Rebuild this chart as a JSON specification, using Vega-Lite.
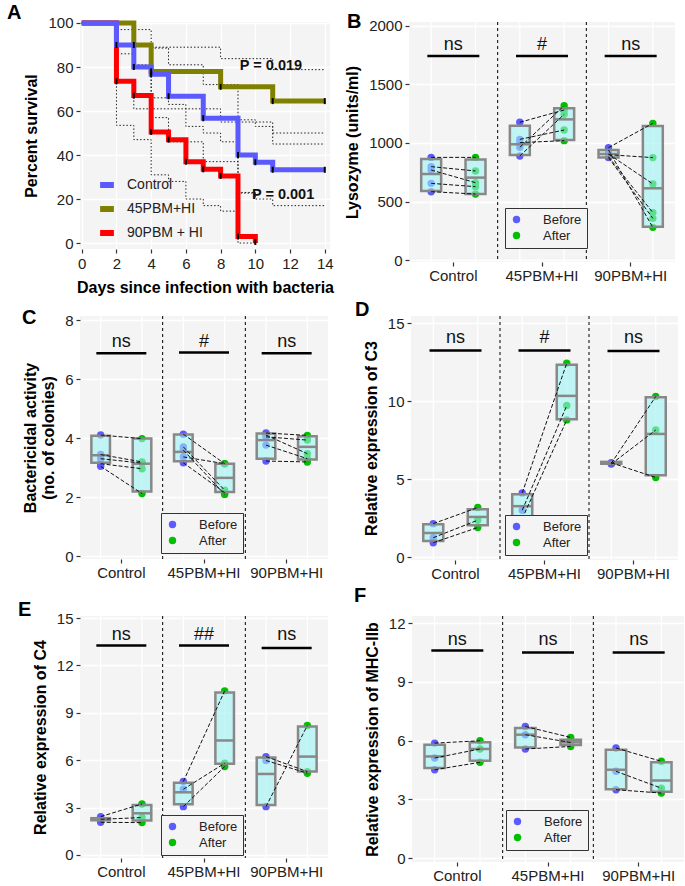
{
"$schema": "https://vega.github.io/schema/vega-lite/v6.json",
"padding": {"left": 7, "top": 2, "right": 0, "bottom": 0},
"background": "white",
"config": {
  "font": "Liberation Sans",
  "view": {"fill": "#f4f4f4", "stroke": null},
  "axis": {"domain": false, "gridColor": "#ffffff", "gridWidth": 1.3, "tickColor": "#333333", "tickSize": 4, "tickWidth": 1.2, "labelColor": "#222222", "labelFontSize": 15, "labelPadding": 3, "titleFontSize": 16, "titleFontWeight": "bold", "titleColor": "#000000", "titlePadding": 8, "labelFont": "Liberation Sans", "titleFont": "Liberation Sans", "labelOverlap": false},
  "title": {"font": "Liberation Sans", "fontSize": 20, "fontWeight": "bold", "anchor": "start", "frame": "group", "baseline": "alphabetic", "offset": 0, "color": "#000000"},
  "legend": {"labelFont": "Liberation Sans"}
},
"datasets": {
  "surv": [
    {"grp": "45PBM+HI", "d": 0, "v": 100}, {"grp": "45PBM+HI", "d": 3, "v": 90}, {"grp": "45PBM+HI", "d": 4, "v": 78}, {"grp": "45PBM+HI", "d": 8, "v": 71}, {"grp": "45PBM+HI", "d": 11, "v": 64.5}, {"grp": "45PBM+HI", "d": 14, "v": 64.5},
    {"grp": "90PBM + HI", "d": 0, "v": 100}, {"grp": "90PBM + HI", "d": 2, "v": 73.5}, {"grp": "90PBM + HI", "d": 3, "v": 67}, {"grp": "90PBM + HI", "d": 4, "v": 50.5}, {"grp": "90PBM + HI", "d": 5, "v": 47}, {"grp": "90PBM + HI", "d": 6, "v": 37}, {"grp": "90PBM + HI", "d": 7, "v": 33.5}, {"grp": "90PBM + HI", "d": 8, "v": 30.5}, {"grp": "90PBM + HI", "d": 9, "v": 3}, {"grp": "90PBM + HI", "d": 10, "v": 0},
    {"grp": "Control", "d": 0, "v": 100}, {"grp": "Control", "d": 2, "v": 90}, {"grp": "Control", "d": 3, "v": 80}, {"grp": "Control", "d": 4, "v": 76.7}, {"grp": "Control", "d": 5, "v": 66.7}, {"grp": "Control", "d": 7, "v": 56.7}, {"grp": "Control", "d": 9, "v": 40}, {"grp": "Control", "d": 10, "v": 36.7}, {"grp": "Control", "d": 11, "v": 33.3}, {"grp": "Control", "d": 14, "v": 33.3}
  ],
  "cens": [
    {"d": 2, "v": 90}, {"d": 3, "v": 80}, {"d": 4, "v": 76.7}, {"d": 5, "v": 66.7}, {"d": 7, "v": 56.7}, {"d": 9, "v": 40}, {"d": 10, "v": 36.7}, {"d": 11, "v": 33.3}, {"d": 14, "v": 33.3},
    {"d": 3, "v": 90}, {"d": 4, "v": 78}, {"d": 8, "v": 71}, {"d": 11, "v": 64.5}, {"d": 14, "v": 64.5},
    {"d": 2, "v": 73.5}, {"d": 3, "v": 67}, {"d": 4, "v": 50.5}, {"d": 5, "v": 47}, {"d": 6, "v": 37}, {"d": 7, "v": 33.5}, {"d": 8, "v": 30.5}, {"d": 9, "v": 3}, {"d": 10, "v": 0.5}
  ],
  "ci": [
    {"id": "cu", "d": 0, "v": 100}, {"id": "cu", "d": 2, "v": 97}, {"id": "cu", "d": 3, "v": 89.5}, {"id": "cu", "d": 4, "v": 88.6}, {"id": "cu", "d": 5, "v": 81}, {"id": "cu", "d": 7, "v": 72}, {"id": "cu", "d": 9, "v": 56}, {"id": "cu", "d": 10, "v": 53}, {"id": "cu", "d": 11, "v": 50}, {"id": "cu", "d": 14, "v": 50},
    {"id": "cl", "d": 0, "v": 100}, {"id": "cl", "d": 2, "v": 73}, {"id": "cl", "d": 3, "v": 61}, {"id": "cl", "d": 4, "v": 57}, {"id": "cl", "d": 5, "v": 46}, {"id": "cl", "d": 7, "v": 37}, {"id": "cl", "d": 9, "v": 23}, {"id": "cl", "d": 10, "v": 20}, {"id": "cl", "d": 11, "v": 17}, {"id": "cl", "d": 14, "v": 17},
    {"id": "ou", "d": 0, "v": 100}, {"id": "ou", "d": 3, "v": 97}, {"id": "ou", "d": 4, "v": 89}, {"id": "ou", "d": 8, "v": 83.8}, {"id": "ou", "d": 11, "v": 78.8}, {"id": "ou", "d": 14, "v": 78.8},
    {"id": "ol", "d": 0, "v": 100}, {"id": "ol", "d": 3, "v": 80}, {"id": "ol", "d": 4, "v": 61}, {"id": "ol", "d": 8, "v": 55}, {"id": "ol", "d": 11, "v": 45}, {"id": "ol", "d": 14, "v": 45},
    {"id": "ru", "d": 0, "v": 100}, {"id": "ru", "d": 2, "v": 86}, {"id": "ru", "d": 3, "v": 81}, {"id": "ru", "d": 4, "v": 66}, {"id": "ru", "d": 5, "v": 63}, {"id": "ru", "d": 6, "v": 53}, {"id": "ru", "d": 7, "v": 50}, {"id": "ru", "d": 8, "v": 46}, {"id": "ru", "d": 9, "v": 22.7}, {"id": "ru", "d": 10, "v": 22.7},
    {"id": "rl", "d": 0, "v": 100}, {"id": "rl", "d": 2, "v": 53.5}, {"id": "rl", "d": 3, "v": 47}, {"id": "rl", "d": 4, "v": 31}, {"id": "rl", "d": 5, "v": 28}, {"id": "rl", "d": 6, "v": 20}, {"id": "rl", "d": 7, "v": 17}, {"id": "rl", "d": 8, "v": 14.5}, {"id": "rl", "d": 9, "v": 0}, {"id": "rl", "d": 10, "v": 0}
  ],
  "pts": [
    {"p": "B", "g": "Control", "t": "Before", "id": 1, "v": 877}, {"p": "B", "g": "Control", "t": "Before", "id": 2, "v": 798}, {"p": "B", "g": "Control", "t": "Before", "id": 3, "v": 769}, {"p": "B", "g": "Control", "t": "Before", "id": 4, "v": 655}, {"p": "B", "g": "Control", "t": "Before", "id": 5, "v": 584},
    {"p": "B", "g": "Control", "t": "After", "id": 1, "v": 877}, {"p": "B", "g": "Control", "t": "After", "id": 2, "v": 761}, {"p": "B", "g": "Control", "t": "After", "id": 3, "v": 661}, {"p": "B", "g": "Control", "t": "After", "id": 4, "v": 627}, {"p": "B", "g": "Control", "t": "After", "id": 5, "v": 564},
    {"p": "B", "g": "45PBM+HI", "t": "Before", "id": 6, "v": 1177}, {"p": "B", "g": "45PBM+HI", "t": "Before", "id": 7, "v": 1031}, {"p": "B", "g": "45PBM+HI", "t": "Before", "id": 8, "v": 1003}, {"p": "B", "g": "45PBM+HI", "t": "Before", "id": 9, "v": 963}, {"p": "B", "g": "45PBM+HI", "t": "Before", "id": 10, "v": 889},
    {"p": "B", "g": "45PBM+HI", "t": "After", "id": 6, "v": 1282}, {"p": "B", "g": "45PBM+HI", "t": "After", "id": 7, "v": 1111}, {"p": "B", "g": "45PBM+HI", "t": "After", "id": 8, "v": 1020}, {"p": "B", "g": "45PBM+HI", "t": "After", "id": 9, "v": 1319}, {"p": "B", "g": "45PBM+HI", "t": "After", "id": 10, "v": 1245},
    {"p": "B", "g": "90PBM+HI", "t": "Before", "id": 11, "v": 960}, {"p": "B", "g": "90PBM+HI", "t": "Before", "id": 12, "v": 900}, {"p": "B", "g": "90PBM+HI", "t": "Before", "id": 13, "v": 906}, {"p": "B", "g": "90PBM+HI", "t": "Before", "id": 14, "v": 883}, {"p": "B", "g": "90PBM+HI", "t": "Before", "id": 15, "v": 875}, {"p": "B", "g": "90PBM+HI", "t": "Before", "id": 16, "v": 940},
    {"p": "B", "g": "90PBM+HI", "t": "After", "id": 11, "v": 1168}, {"p": "B", "g": "90PBM+HI", "t": "After", "id": 12, "v": 875}, {"p": "B", "g": "90PBM+HI", "t": "After", "id": 13, "v": 650}, {"p": "B", "g": "90PBM+HI", "t": "After", "id": 14, "v": 405}, {"p": "B", "g": "90PBM+HI", "t": "After", "id": 15, "v": 356}, {"p": "B", "g": "90PBM+HI", "t": "After", "id": 16, "v": 279},
    {"p": "C", "g": "Control", "t": "Before", "id": 21, "v": 4.1}, {"p": "C", "g": "Control", "t": "Before", "id": 22, "v": 3.44}, {"p": "C", "g": "Control", "t": "Before", "id": 23, "v": 3.3}, {"p": "C", "g": "Control", "t": "Before", "id": 24, "v": 3.13}, {"p": "C", "g": "Control", "t": "Before", "id": 25, "v": 3.04},
    {"p": "C", "g": "Control", "t": "After", "id": 21, "v": 3.98}, {"p": "C", "g": "Control", "t": "After", "id": 22, "v": 3.19}, {"p": "C", "g": "Control", "t": "After", "id": 23, "v": 3.15}, {"p": "C", "g": "Control", "t": "After", "id": 24, "v": 2.96}, {"p": "C", "g": "Control", "t": "After", "id": 25, "v": 2.12},
    {"p": "C", "g": "45PBM+HI", "t": "Before", "id": 26, "v": 4.13}, {"p": "C", "g": "45PBM+HI", "t": "Before", "id": 27, "v": 3.7}, {"p": "C", "g": "45PBM+HI", "t": "Before", "id": 28, "v": 3.59}, {"p": "C", "g": "45PBM+HI", "t": "Before", "id": 29, "v": 3.36}, {"p": "C", "g": "45PBM+HI", "t": "Before", "id": 30, "v": 3.16},
    {"p": "C", "g": "45PBM+HI", "t": "After", "id": 26, "v": 3.13}, {"p": "C", "g": "45PBM+HI", "t": "After", "id": 27, "v": 2.23}, {"p": "C", "g": "45PBM+HI", "t": "After", "id": 28, "v": 2.09}, {"p": "C", "g": "45PBM+HI", "t": "After", "id": 29, "v": 3.13}, {"p": "C", "g": "45PBM+HI", "t": "After", "id": 30, "v": 2.15},
    {"p": "C", "g": "90PBM+HI", "t": "Before", "id": 31, "v": 4.17}, {"p": "C", "g": "90PBM+HI", "t": "Before", "id": 32, "v": 4.04}, {"p": "C", "g": "90PBM+HI", "t": "Before", "id": 33, "v": 4.1}, {"p": "C", "g": "90PBM+HI", "t": "Before", "id": 34, "v": 3.76}, {"p": "C", "g": "90PBM+HI", "t": "Before", "id": 35, "v": 3.22},
    {"p": "C", "g": "90PBM+HI", "t": "After", "id": 31, "v": 4.09}, {"p": "C", "g": "90PBM+HI", "t": "After", "id": 32, "v": 3.93}, {"p": "C", "g": "90PBM+HI", "t": "After", "id": 33, "v": 3.47}, {"p": "C", "g": "90PBM+HI", "t": "After", "id": 34, "v": 3.3}, {"p": "C", "g": "90PBM+HI", "t": "After", "id": 35, "v": 3.19},
    {"p": "D", "g": "Control", "t": "Before", "id": 41, "v": 2.14}, {"p": "D", "g": "Control", "t": "Before", "id": 42, "v": 1.24}, {"p": "D", "g": "Control", "t": "Before", "id": 43, "v": 0.92},
    {"p": "D", "g": "Control", "t": "After", "id": 41, "v": 3.17}, {"p": "D", "g": "Control", "t": "After", "id": 42, "v": 2.36}, {"p": "D", "g": "Control", "t": "After", "id": 43, "v": 1.89},
    {"p": "D", "g": "45PBM+HI", "t": "Before", "id": 44, "v": 4.11}, {"p": "D", "g": "45PBM+HI", "t": "Before", "id": 45, "v": 3.0}, {"p": "D", "g": "45PBM+HI", "t": "Before", "id": 46, "v": 2.46},
    {"p": "D", "g": "45PBM+HI", "t": "After", "id": 44, "v": 12.43}, {"p": "D", "g": "45PBM+HI", "t": "After", "id": 45, "v": 9.71}, {"p": "D", "g": "45PBM+HI", "t": "After", "id": 46, "v": 8.79},
    {"p": "D", "g": "90PBM+HI", "t": "Before", "id": 47, "v": 6.0}, {"p": "D", "g": "90PBM+HI", "t": "Before", "id": 48, "v": 5.96}, {"p": "D", "g": "90PBM+HI", "t": "Before", "id": 49, "v": 6.04},
    {"p": "D", "g": "90PBM+HI", "t": "After", "id": 47, "v": 10.29}, {"p": "D", "g": "90PBM+HI", "t": "After", "id": 48, "v": 8.14}, {"p": "D", "g": "90PBM+HI", "t": "After", "id": 49, "v": 5.1},
    {"p": "E", "g": "Control", "t": "Before", "id": 51, "v": 2.43}, {"p": "E", "g": "Control", "t": "Before", "id": 52, "v": 2.26}, {"p": "E", "g": "Control", "t": "Before", "id": 53, "v": 2.07},
    {"p": "E", "g": "Control", "t": "After", "id": 51, "v": 3.23}, {"p": "E", "g": "Control", "t": "After", "id": 52, "v": 2.37}, {"p": "E", "g": "Control", "t": "After", "id": 53, "v": 2.05},
    {"p": "E", "g": "45PBM+HI", "t": "Before", "id": 54, "v": 4.65}, {"p": "E", "g": "45PBM+HI", "t": "Before", "id": 55, "v": 4.16}, {"p": "E", "g": "45PBM+HI", "t": "Before", "id": 56, "v": 3.06},
    {"p": "E", "g": "45PBM+HI", "t": "After", "id": 54, "v": 10.39}, {"p": "E", "g": "45PBM+HI", "t": "After", "id": 55, "v": 5.81}, {"p": "E", "g": "45PBM+HI", "t": "After", "id": 56, "v": 5.6},
    {"p": "E", "g": "90PBM+HI", "t": "Before", "id": 57, "v": 6.23}, {"p": "E", "g": "90PBM+HI", "t": "Before", "id": 58, "v": 5.98}, {"p": "E", "g": "90PBM+HI", "t": "Before", "id": 59, "v": 3.06},
    {"p": "E", "g": "90PBM+HI", "t": "After", "id": 57, "v": 5.28}, {"p": "E", "g": "90PBM+HI", "t": "After", "id": 58, "v": 5.18}, {"p": "E", "g": "90PBM+HI", "t": "After", "id": 59, "v": 8.2},
    {"p": "F", "g": "Control", "t": "Before", "id": 61, "v": 5.87}, {"p": "F", "g": "Control", "t": "Before", "id": 62, "v": 5.11}, {"p": "F", "g": "Control", "t": "Before", "id": 63, "v": 4.51},
    {"p": "F", "g": "Control", "t": "After", "id": 61, "v": 5.99}, {"p": "F", "g": "Control", "t": "After", "id": 62, "v": 5.57}, {"p": "F", "g": "Control", "t": "After", "id": 63, "v": 4.89},
    {"p": "F", "g": "45PBM+HI", "t": "Before", "id": 64, "v": 6.72}, {"p": "F", "g": "45PBM+HI", "t": "Before", "id": 65, "v": 6.3}, {"p": "F", "g": "45PBM+HI", "t": "Before", "id": 66, "v": 5.57},
    {"p": "F", "g": "45PBM+HI", "t": "After", "id": 64, "v": 6.16}, {"p": "F", "g": "45PBM+HI", "t": "After", "id": 65, "v": 5.9}, {"p": "F", "g": "45PBM+HI", "t": "After", "id": 66, "v": 5.7},
    {"p": "F", "g": "90PBM+HI", "t": "Before", "id": 67, "v": 5.62}, {"p": "F", "g": "90PBM+HI", "t": "Before", "id": 68, "v": 4.43}, {"p": "F", "g": "90PBM+HI", "t": "Before", "id": 69, "v": 3.49},
    {"p": "F", "g": "90PBM+HI", "t": "After", "id": 67, "v": 4.94}, {"p": "F", "g": "90PBM+HI", "t": "After", "id": 68, "v": 3.57}, {"p": "F", "g": "90PBM+HI", "t": "After", "id": 69, "v": 3.32}
  ],
  "box": [
    {"p": "B", "g": "Control", "t": "Before", "lo": 590, "mid": 735, "hi": 863}, {"p": "B", "g": "Control", "t": "After", "lo": 564, "mid": 704, "hi": 860},
    {"p": "B", "g": "45PBM+HI", "t": "Before", "lo": 897, "mid": 989, "hi": 1148}, {"p": "B", "g": "45PBM+HI", "t": "After", "lo": 1026, "mid": 1202, "hi": 1296},
    {"p": "B", "g": "90PBM+HI", "t": "Before", "lo": 877, "mid": 906, "hi": 940}, {"p": "B", "g": "90PBM+HI", "t": "After", "lo": 285, "mid": 613, "hi": 1145},
    {"p": "C", "g": "Control", "t": "Before", "lo": 3.16, "mid": 3.42, "hi": 4.08}, {"p": "C", "g": "Control", "t": "After", "lo": 2.19, "mid": 3.13, "hi": 3.98},
    {"p": "C", "g": "45PBM+HI", "t": "Before", "lo": 3.21, "mid": 3.53, "hi": 4.12}, {"p": "C", "g": "45PBM+HI", "t": "After", "lo": 2.17, "mid": 2.65, "hi": 3.13},
    {"p": "C", "g": "90PBM+HI", "t": "Before", "lo": 3.3, "mid": 3.93, "hi": 4.15}, {"p": "C", "g": "90PBM+HI", "t": "After", "lo": 3.27, "mid": 3.7, "hi": 4.06},
    {"p": "D", "g": "Control", "t": "Before", "lo": 1.03, "mid": 1.54, "hi": 2.1}, {"p": "D", "g": "Control", "t": "After", "lo": 2.04, "mid": 2.57, "hi": 3.06},
    {"p": "D", "g": "45PBM+HI", "t": "Before", "lo": 2.61, "mid": 3.26, "hi": 4.03}, {"p": "D", "g": "45PBM+HI", "t": "After", "lo": 8.83, "mid": 10.33, "hi": 12.32},
    {"p": "D", "g": "90PBM+HI", "t": "Before", "lo": 5.98, "mid": 6.06, "hi": 6.1}, {"p": "D", "g": "90PBM+HI", "t": "After", "lo": 5.25, "mid": 7.89, "hi": 10.24},
    {"p": "E", "g": "Control", "t": "Before", "lo": 2.2, "mid": 2.26, "hi": 2.33}, {"p": "E", "g": "Control", "t": "After", "lo": 2.18, "mid": 2.64, "hi": 3.17},
    {"p": "E", "g": "45PBM+HI", "t": "Before", "lo": 3.21, "mid": 3.97, "hi": 4.58}, {"p": "E", "g": "45PBM+HI", "t": "After", "lo": 5.77, "mid": 7.25, "hi": 10.29},
    {"p": "E", "g": "90PBM+HI", "t": "Before", "lo": 3.17, "mid": 5.13, "hi": 6.17}, {"p": "E", "g": "90PBM+HI", "t": "After", "lo": 5.28, "mid": 6.23, "hi": 8.13},
    {"p": "F", "g": "Control", "t": "Before", "lo": 4.6, "mid": 5.19, "hi": 5.79}, {"p": "F", "g": "Control", "t": "After", "lo": 4.97, "mid": 5.57, "hi": 5.92},
    {"p": "F", "g": "45PBM+HI", "t": "Before", "lo": 5.65, "mid": 6.3, "hi": 6.64}, {"p": "F", "g": "45PBM+HI", "t": "After", "lo": 5.77, "mid": 5.91, "hi": 6.04},
    {"p": "F", "g": "90PBM+HI", "t": "Before", "lo": 3.52, "mid": 4.51, "hi": 5.53}, {"p": "F", "g": "90PBM+HI", "t": "After", "lo": 3.39, "mid": 3.96, "hi": 4.89}
  ],
  "sig": [
    {"p": "B", "g": "Control", "lab": "ns", "bar": 1744, "txt": 1795}, {"p": "B", "g": "45PBM+HI", "lab": "#", "bar": 1744, "txt": 1795}, {"p": "B", "g": "90PBM+HI", "lab": "ns", "bar": 1744, "txt": 1795},
    {"p": "C", "g": "Control", "lab": "ns", "bar": 6.87, "txt": 7.07}, {"p": "C", "g": "45PBM+HI", "lab": "#", "bar": 6.9, "txt": 7.1}, {"p": "C", "g": "90PBM+HI", "lab": "ns", "bar": 6.87, "txt": 7.1},
    {"p": "D", "g": "Control", "lab": "ns", "bar": 13.24, "txt": 13.71}, {"p": "D", "g": "45PBM+HI", "lab": "#", "bar": 13.24, "txt": 13.71}, {"p": "D", "g": "90PBM+HI", "lab": "ns", "bar": 13.2, "txt": 13.71},
    {"p": "E", "g": "Control", "lab": "ns", "bar": 13.27, "txt": 13.63}, {"p": "E", "g": "45PBM+HI", "lab": "##", "bar": 13.27, "txt": 13.63}, {"p": "E", "g": "90PBM+HI", "lab": "ns", "bar": 13.1, "txt": 13.6},
    {"p": "F", "g": "Control", "lab": "ns", "bar": 10.6, "txt": 10.89}, {"p": "F", "g": "45PBM+HI", "lab": "ns", "bar": 10.5, "txt": 10.89}, {"p": "F", "g": "90PBM+HI", "lab": "ns", "bar": 10.5, "txt": 10.89}
  ]
},
"resolve": {"scale": {"x": "independent", "y": "independent", "xOffset": "independent", "color": "independent"}, "axis": {"x": "independent", "y": "independent"}, "legend": {"color": "independent"}},
"align": "none",
"spacing": 5,
"vconcat": [
{
 "spacing": 9,
 "resolve": {"scale": {"x": "independent", "y": "independent", "xOffset": "independent", "color": "independent"}, "axis": {"x": "independent", "y": "independent"}, "legend": {"color": "independent"}},
 "hconcat": [
  {
   "width": 250, "height": 227,
   "title": {"text": "A", "dx": -73, "dy": 14},
   "encoding": {
     "x": {"field": "d", "type": "quantitative", "scale": {"domain": [-0.1, 14.3], "nice": false, "zero": false}, "axis": {"values": [0, 2, 4, 6, 8, 10, 12, 14], "tickCount": 8, "labelFlush": false, "labelOverlap": false, "labelSeparation": 0, "labelBound": false}, "title": "Days since infection with bacteria"},
     "y": {"field": "v", "type": "quantitative", "scale": {"domain": [-2.7, 100.45], "nice": false, "zero": false}, "axis": {"values": [0, 20, 40, 60, 80, 100]}, "title": "Percent survival"}
   },
   "layer": [
    {"data": {"name": "ci"}, "mark": {"type": "line", "interpolate": "step-after", "color": "#222222", "strokeWidth": 1, "strokeDash": [1.5, 2]},
     "encoding": {"detail": {"field": "id", "type": "nominal"}}},
    {"data": {"name": "surv"}, "mark": {"type": "line", "interpolate": "step-after", "strokeWidth": 5},
     "encoding": {
      "color": {"field": "grp", "type": "nominal", "scale": {"domain": ["Control", "45PBM+HI", "90PBM + HI"], "range": ["#5a5aff", "#808000", "#ff0000"]},
        "legend": {"title": null, "orient": "none", "legendX": 17, "legendY": 153, "symbolType": "stroke", "symbolStrokeWidth": 6, "symbolSize": 190, "labelFontSize": 14, "labelOffset": 10, "padding": 0, "rowPadding": 0, "labelColor": "#222222"}}}},
    {"data": {"name": "cens"}, "mark": {"type": "tick", "orient": "vertical", "color": "#000000", "size": 6, "thickness": 2, "opacity": 1}},
    {"data": {"values": [{"d": 10.9, "v": 80.5, "lab": "P = 0.019"}, {"d": 11.6, "v": 21.8, "lab": "P = 0.001"}]},
     "mark": {"type": "text", "fontWeight": "bold", "fontSize": 14.5, "baseline": "middle", "color": "#111111"},
     "encoding": {"text": {"field": "lab", "type": "nominal"}}}
   ]
  },
  {
   "width": 266, "height": 240,
   "title": {"text": "B", "dx": -62, "dy": 17},
   "layer": [
    {"data": {"name": "box"}, "transform": [{"filter": "datum.p == 'B'"}], "mark": {"type": "rule", "color": "#ffffff", "strokeWidth": 1.3},
     "encoding": {"x": {"field": "g", "type": "nominal", "scale": {"domain": ["Control", "45PBM+HI", "90PBM+HI"], "paddingInner": 0, "paddingOuter": 0}, "axis": {"labelAngle": 0, "grid": false, "labelPadding": 2}, "title": null},
      "xOffset": {"field": "t", "type": "nominal", "scale": {"domain": ["Before", "After"], "paddingInner": 0.55, "paddingOuter": 0.275}}}},
    {"data": {"name": "sig"}, "transform": [{"filter": "datum.p == 'B' && datum.g != 'Control'"}], "mark": {"type": "rule", "color": "#000000", "strokeWidth": 1, "strokeDash": [3, 3]},
     "encoding": {"x": {"field": "g", "type": "nominal", "bandPosition": 0, "title": null}}},
    {"data": {"name": "pts"}, "transform": [{"filter": "datum.p == 'B'"}], "mark": {"type": "circle", "size": 55, "opacity": 1},
     "encoding": {"x": {"field": "g", "type": "nominal", "title": null}, "xOffset": {"field": "t", "type": "nominal"},
      "y": {"field": "v", "type": "quantitative", "scale": {"domain": [-17, 2034], "nice": false, "zero": false}, "axis": {"values": [0, 500, 1000, 1500, 2000], "format": "d"}, "title": "Lysozyme (units/ml)"},
      "color": {"field": "t", "type": "nominal", "scale": {"domain": ["Before", "After"], "range": ["#5b5bff", "#00c000"]},
        "legend": {"title": null, "orient": "none", "legendX": 96, "legendY": 186, "strokeColor": "#333333", "fillColor": "#f4f4f4", "padding": 5, "labelOffset": 20, "labelFontSize": 13, "symbolSize": 55, "symbolType": "circle", "rowPadding": 2, "symbolStrokeWidth": 0, "labelColor": "#222222"}}}},
    {"data": {"name": "box"}, "transform": [{"filter": "datum.p == 'B'"}], "mark": {"type": "bar", "fill": "#9cf1f1", "fillOpacity": 0.6, "stroke": "#888888", "strokeWidth": 2.5},
     "encoding": {"x": {"field": "g", "type": "nominal", "title": null}, "xOffset": {"field": "t", "type": "nominal"},
      "y": {"field": "lo", "type": "quantitative", "scale": {"domain": [-17, 2034], "nice": false, "zero": false}, "title": "Lysozyme (units/ml)"}, "y2": {"field": "hi"}}},
    {"data": {"name": "box"}, "transform": [{"filter": "datum.p == 'B'"}], "mark": {"type": "tick", "orient": "horizontal", "color": "#888888", "size": 20, "thickness": 2.5, "opacity": 1},
     "encoding": {"x": {"field": "g", "type": "nominal", "title": null}, "xOffset": {"field": "t", "type": "nominal"},
      "y": {"field": "mid", "type": "quantitative", "scale": {"domain": [-17, 2034], "nice": false, "zero": false}, "title": "Lysozyme (units/ml)"}}},
    {"data": {"name": "pts"}, "transform": [{"filter": "datum.p == 'B'"}], "mark": {"type": "line", "color": "#111111", "strokeWidth": 1, "strokeDash": [4, 2]},
     "encoding": {"x": {"field": "g", "type": "nominal", "title": null}, "xOffset": {"field": "t", "type": "nominal"},
      "y": {"field": "v", "type": "quantitative", "scale": {"domain": [-17, 2034], "nice": false, "zero": false}, "title": "Lysozyme (units/ml)"}, "detail": {"field": "id", "type": "nominal"}}},
    {"data": {"name": "sig"}, "transform": [{"filter": "datum.p == 'B'"}], "mark": {"type": "tick", "orient": "horizontal", "color": "#000000", "size": 52, "thickness": 2.5, "opacity": 1},
     "encoding": {"x": {"field": "g", "type": "nominal", "title": null},
      "y": {"field": "bar", "type": "quantitative", "scale": {"domain": [-17, 2034], "nice": false, "zero": false}, "title": "Lysozyme (units/ml)"}}},
    {"data": {"name": "sig"}, "transform": [{"filter": "datum.p == 'B'"}], "mark": {"type": "text", "fontSize": 18, "baseline": "alphabetic", "color": "#111111"},
     "encoding": {"x": {"field": "g", "type": "nominal", "title": null},
      "y": {"field": "txt", "type": "quantitative", "scale": {"domain": [-17, 2034], "nice": false, "zero": false}, "title": "Lysozyme (units/ml)"}, "text": {"field": "lab", "type": "nominal"}}}
   ]
  }
 ]
},
{
 "spacing": 27,
 "resolve": {"scale": {"x": "independent", "y": "independent", "xOffset": "independent", "color": "independent"}, "axis": {"x": "independent", "y": "independent"}, "legend": {"color": "independent"}},
 "hconcat": [
  {
   "width": 248, "height": 243,
   "title": {"text": "C", "dx": -58, "dy": 19},
   "layer": [
    {"data": {"name": "box"}, "transform": [{"filter": "datum.p == 'C'"}], "mark": {"type": "rule", "color": "#ffffff", "strokeWidth": 1.3},
     "encoding": {"x": {"field": "g", "type": "nominal", "scale": {"domain": ["Control", "45PBM+HI", "90PBM+HI"], "paddingInner": 0, "paddingOuter": 0}, "axis": {"labelAngle": 0, "grid": false, "labelPadding": 2}, "title": null},
      "xOffset": {"field": "t", "type": "nominal", "scale": {"domain": ["Before", "After"], "paddingInner": 0.55, "paddingOuter": 0.275}}}},
    {"data": {"name": "sig"}, "transform": [{"filter": "datum.p == 'C' && datum.g != 'Control'"}], "mark": {"type": "rule", "color": "#000000", "strokeWidth": 1, "strokeDash": [3, 3]},
     "encoding": {"x": {"field": "g", "type": "nominal", "bandPosition": 0, "title": null}}},
    {"data": {"name": "pts"}, "transform": [{"filter": "datum.p == 'C'"}], "mark": {"type": "circle", "size": 55, "opacity": 1},
     "encoding": {"x": {"field": "g", "type": "nominal", "title": null}, "xOffset": {"field": "t", "type": "nominal"},
      "y": {"field": "v", "type": "quantitative", "scale": {"domain": [-0.1, 8.136], "nice": false, "zero": false}, "axis": {"values": [0, 2, 4, 6, 8]}, "title": ["Bactericidal activity", "(no. of colonies)"]},
      "color": {"field": "t", "type": "nominal", "scale": {"domain": ["Before", "After"], "range": ["#5b5bff", "#00c000"]},
        "legend": {"title": null, "orient": "none", "legendX": 81, "legendY": 197, "strokeColor": "#333333", "fillColor": "#f4f4f4", "padding": 5, "labelOffset": 20, "labelFontSize": 13, "symbolSize": 55, "symbolType": "circle", "rowPadding": 2, "symbolStrokeWidth": 0, "labelColor": "#222222"}}}},
    {"data": {"name": "box"}, "transform": [{"filter": "datum.p == 'C'"}], "mark": {"type": "bar", "fill": "#9cf1f1", "fillOpacity": 0.6, "stroke": "#888888", "strokeWidth": 2.5},
     "encoding": {"x": {"field": "g", "type": "nominal", "title": null}, "xOffset": {"field": "t", "type": "nominal"},
      "y": {"field": "lo", "type": "quantitative", "scale": {"domain": [-0.1, 8.136], "nice": false, "zero": false}, "title": ["Bactericidal activity", "(no. of colonies)"]}, "y2": {"field": "hi"}}},
    {"data": {"name": "box"}, "transform": [{"filter": "datum.p == 'C'"}], "mark": {"type": "tick", "orient": "horizontal", "color": "#888888", "size": 20, "thickness": 2.5, "opacity": 1},
     "encoding": {"x": {"field": "g", "type": "nominal", "title": null}, "xOffset": {"field": "t", "type": "nominal"},
      "y": {"field": "mid", "type": "quantitative", "scale": {"domain": [-0.1, 8.136], "nice": false, "zero": false}, "title": ["Bactericidal activity", "(no. of colonies)"]}}},
    {"data": {"name": "pts"}, "transform": [{"filter": "datum.p == 'C'"}], "mark": {"type": "line", "color": "#111111", "strokeWidth": 1, "strokeDash": [4, 2]},
     "encoding": {"x": {"field": "g", "type": "nominal", "title": null}, "xOffset": {"field": "t", "type": "nominal"},
      "y": {"field": "v", "type": "quantitative", "scale": {"domain": [-0.1, 8.136], "nice": false, "zero": false}, "title": ["Bactericidal activity", "(no. of colonies)"]}, "detail": {"field": "id", "type": "nominal"}}},
    {"data": {"name": "sig"}, "transform": [{"filter": "datum.p == 'C'"}], "mark": {"type": "tick", "orient": "horizontal", "color": "#000000", "size": 50, "thickness": 2.5, "opacity": 1},
     "encoding": {"x": {"field": "g", "type": "nominal", "title": null},
      "y": {"field": "bar", "type": "quantitative", "scale": {"domain": [-0.1, 8.136], "nice": false, "zero": false}, "title": ["Bactericidal activity", "(no. of colonies)"]}}},
    {"data": {"name": "sig"}, "transform": [{"filter": "datum.p == 'C'"}], "mark": {"type": "text", "fontSize": 18, "baseline": "alphabetic", "color": "#111111"},
     "encoding": {"x": {"field": "g", "type": "nominal", "title": null},
      "y": {"field": "txt", "type": "quantitative", "scale": {"domain": [-0.1, 8.136], "nice": false, "zero": false}, "title": ["Bactericidal activity", "(no. of colonies)"]}, "text": {"field": "lab", "type": "nominal"}}}
   ]
  },
  {
   "width": 267, "height": 244,
   "title": {"text": "D", "dx": -56, "dy": 9},
   "layer": [
    {"data": {"name": "box"}, "transform": [{"filter": "datum.p == 'D'"}], "mark": {"type": "rule", "color": "#ffffff", "strokeWidth": 1.3},
     "encoding": {"x": {"field": "g", "type": "nominal", "scale": {"domain": ["Control", "45PBM+HI", "90PBM+HI"], "paddingInner": 0, "paddingOuter": 0}, "axis": {"labelAngle": 0, "grid": false, "labelPadding": 2}, "title": null},
      "xOffset": {"field": "t", "type": "nominal", "scale": {"domain": ["Before", "After"], "paddingInner": 0.55, "paddingOuter": 0.275}}}},
    {"data": {"name": "sig"}, "transform": [{"filter": "datum.p == 'D' && datum.g != 'Control'"}], "mark": {"type": "rule", "color": "#000000", "strokeWidth": 1, "strokeDash": [3, 3]},
     "encoding": {"x": {"field": "g", "type": "nominal", "bandPosition": 0, "title": null}}},
    {"data": {"name": "pts"}, "transform": [{"filter": "datum.p == 'D'"}], "mark": {"type": "circle", "size": 55, "opacity": 1},
     "encoding": {"x": {"field": "g", "type": "nominal", "title": null}, "xOffset": {"field": "t", "type": "nominal"},
      "y": {"field": "v", "type": "quantitative", "scale": {"domain": [-0.19, 15.45], "nice": false, "zero": false}, "axis": {"values": [0, 5, 10, 15]}, "title": "Relative expression of C3"},
      "color": {"field": "t", "type": "nominal", "scale": {"domain": ["Before", "After"], "range": ["#5b5bff", "#00c000"]},
        "legend": {"title": null, "orient": "none", "legendX": 94, "legendY": 199, "strokeColor": "#333333", "fillColor": "#f4f4f4", "padding": 5, "labelOffset": 20, "labelFontSize": 13, "symbolSize": 55, "symbolType": "circle", "rowPadding": 2, "symbolStrokeWidth": 0, "labelColor": "#222222"}}}},
    {"data": {"name": "box"}, "transform": [{"filter": "datum.p == 'D'"}], "mark": {"type": "bar", "fill": "#9cf1f1", "fillOpacity": 0.6, "stroke": "#888888", "strokeWidth": 2.5},
     "encoding": {"x": {"field": "g", "type": "nominal", "title": null}, "xOffset": {"field": "t", "type": "nominal"},
      "y": {"field": "lo", "type": "quantitative", "scale": {"domain": [-0.19, 15.45], "nice": false, "zero": false}, "title": "Relative expression of C3"}, "y2": {"field": "hi"}}},
    {"data": {"name": "box"}, "transform": [{"filter": "datum.p == 'D'"}], "mark": {"type": "tick", "orient": "horizontal", "color": "#888888", "size": 20, "thickness": 2.5, "opacity": 1},
     "encoding": {"x": {"field": "g", "type": "nominal", "title": null}, "xOffset": {"field": "t", "type": "nominal"},
      "y": {"field": "mid", "type": "quantitative", "scale": {"domain": [-0.19, 15.45], "nice": false, "zero": false}, "title": "Relative expression of C3"}}},
    {"data": {"name": "pts"}, "transform": [{"filter": "datum.p == 'D'"}], "mark": {"type": "line", "color": "#111111", "strokeWidth": 1, "strokeDash": [4, 2]},
     "encoding": {"x": {"field": "g", "type": "nominal", "title": null}, "xOffset": {"field": "t", "type": "nominal"},
      "y": {"field": "v", "type": "quantitative", "scale": {"domain": [-0.19, 15.45], "nice": false, "zero": false}, "title": "Relative expression of C3"}, "detail": {"field": "id", "type": "nominal"}}},
    {"data": {"name": "sig"}, "transform": [{"filter": "datum.p == 'D'"}], "mark": {"type": "tick", "orient": "horizontal", "color": "#000000", "size": 52, "thickness": 2.5, "opacity": 1},
     "encoding": {"x": {"field": "g", "type": "nominal", "title": null},
      "y": {"field": "bar", "type": "quantitative", "scale": {"domain": [-0.19, 15.45], "nice": false, "zero": false}, "title": "Relative expression of C3"}}},
    {"data": {"name": "sig"}, "transform": [{"filter": "datum.p == 'D'"}], "mark": {"type": "text", "fontSize": 18, "baseline": "alphabetic", "color": "#111111"},
     "encoding": {"x": {"field": "g", "type": "nominal", "title": null},
      "y": {"field": "txt", "type": "quantitative", "scale": {"domain": [-0.19, 15.45], "nice": false, "zero": false}, "title": "Relative expression of C3"}, "text": {"field": "lab", "type": "nominal"}}}
   ]
  }
 ]
},
{
 "spacing": 26,
 "resolve": {"scale": {"x": "independent", "y": "independent", "xOffset": "independent", "color": "independent"}, "axis": {"x": "independent", "y": "independent"}, "legend": {"color": "independent"}},
 "hconcat": [
  {
   "width": 248, "height": 242,
   "title": {"text": "E", "dx": -62, "dy": 13},
   "layer": [
    {"data": {"name": "box"}, "transform": [{"filter": "datum.p == 'E'"}], "mark": {"type": "rule", "color": "#ffffff", "strokeWidth": 1.3},
     "encoding": {"x": {"field": "g", "type": "nominal", "scale": {"domain": ["Control", "45PBM+HI", "90PBM+HI"], "paddingInner": 0, "paddingOuter": 0}, "axis": {"labelAngle": 0, "grid": false, "labelPadding": 2}, "title": null},
      "xOffset": {"field": "t", "type": "nominal", "scale": {"domain": ["Before", "After"], "paddingInner": 0.55, "paddingOuter": 0.275}}}},
    {"data": {"name": "sig"}, "transform": [{"filter": "datum.p == 'E' && datum.g != 'Control'"}], "mark": {"type": "rule", "color": "#000000", "strokeWidth": 1, "strokeDash": [3, 3]},
     "encoding": {"x": {"field": "g", "type": "nominal", "bandPosition": 0, "title": null}}},
    {"data": {"name": "pts"}, "transform": [{"filter": "datum.p == 'E'"}], "mark": {"type": "circle", "size": 55, "opacity": 1},
     "encoding": {"x": {"field": "g", "type": "nominal", "title": null}, "xOffset": {"field": "t", "type": "nominal"},
      "y": {"field": "v", "type": "quantitative", "scale": {"domain": [-0.19, 15.13], "nice": false, "zero": false}, "axis": {"values": [0, 3, 6, 9, 12, 15]}, "title": "Relative expression of C4"},
      "color": {"field": "t", "type": "nominal", "scale": {"domain": ["Before", "After"], "range": ["#5b5bff", "#00c000"]},
        "legend": {"title": null, "orient": "none", "legendX": 81, "legendY": 199, "strokeColor": "#333333", "fillColor": "#f4f4f4", "padding": 5, "labelOffset": 20, "labelFontSize": 13, "symbolSize": 55, "symbolType": "circle", "rowPadding": 2, "symbolStrokeWidth": 0, "labelColor": "#222222"}}}},
    {"data": {"name": "box"}, "transform": [{"filter": "datum.p == 'E'"}], "mark": {"type": "bar", "fill": "#9cf1f1", "fillOpacity": 0.6, "stroke": "#888888", "strokeWidth": 2.5},
     "encoding": {"x": {"field": "g", "type": "nominal", "title": null}, "xOffset": {"field": "t", "type": "nominal"},
      "y": {"field": "lo", "type": "quantitative", "scale": {"domain": [-0.19, 15.13], "nice": false, "zero": false}, "title": "Relative expression of C4"}, "y2": {"field": "hi"}}},
    {"data": {"name": "box"}, "transform": [{"filter": "datum.p == 'E'"}], "mark": {"type": "tick", "orient": "horizontal", "color": "#888888", "size": 20, "thickness": 2.5, "opacity": 1},
     "encoding": {"x": {"field": "g", "type": "nominal", "title": null}, "xOffset": {"field": "t", "type": "nominal"},
      "y": {"field": "mid", "type": "quantitative", "scale": {"domain": [-0.19, 15.13], "nice": false, "zero": false}, "title": "Relative expression of C4"}}},
    {"data": {"name": "pts"}, "transform": [{"filter": "datum.p == 'E'"}], "mark": {"type": "line", "color": "#111111", "strokeWidth": 1, "strokeDash": [4, 2]},
     "encoding": {"x": {"field": "g", "type": "nominal", "title": null}, "xOffset": {"field": "t", "type": "nominal"},
      "y": {"field": "v", "type": "quantitative", "scale": {"domain": [-0.19, 15.13], "nice": false, "zero": false}, "title": "Relative expression of C4"}, "detail": {"field": "id", "type": "nominal"}}},
    {"data": {"name": "sig"}, "transform": [{"filter": "datum.p == 'E'"}], "mark": {"type": "tick", "orient": "horizontal", "color": "#000000", "size": 50, "thickness": 2.5, "opacity": 1},
     "encoding": {"x": {"field": "g", "type": "nominal", "title": null},
      "y": {"field": "bar", "type": "quantitative", "scale": {"domain": [-0.19, 15.13], "nice": false, "zero": false}, "title": "Relative expression of C4"}}},
    {"data": {"name": "sig"}, "transform": [{"filter": "datum.p == 'E'"}], "mark": {"type": "text", "fontSize": 18, "baseline": "alphabetic", "color": "#111111"},
     "encoding": {"x": {"field": "g", "type": "nominal", "title": null},
      "y": {"field": "txt", "type": "quantitative", "scale": {"domain": [-0.19, 15.13], "nice": false, "zero": false}, "title": "Relative expression of C4"}, "text": {"field": "lab", "type": "nominal"}}}
   ]
  },
  {
   "width": 272, "height": 246,
   "title": {"text": "F", "dx": -58, "dy": -5},
   "layer": [
    {"data": {"name": "box"}, "transform": [{"filter": "datum.p == 'F'"}], "mark": {"type": "rule", "color": "#ffffff", "strokeWidth": 1.3},
     "encoding": {"x": {"field": "g", "type": "nominal", "scale": {"domain": ["Control", "45PBM+HI", "90PBM+HI"], "paddingInner": 0, "paddingOuter": 0}, "axis": {"labelAngle": 0, "grid": false, "labelPadding": 2}, "title": null},
      "xOffset": {"field": "t", "type": "nominal", "scale": {"domain": ["Before", "After"], "paddingInner": 0.55, "paddingOuter": 0.275}}}},
    {"data": {"name": "sig"}, "transform": [{"filter": "datum.p == 'F' && datum.g != 'Control'"}], "mark": {"type": "rule", "color": "#000000", "strokeWidth": 1, "strokeDash": [3, 3]},
     "encoding": {"x": {"field": "g", "type": "nominal", "bandPosition": 0, "title": null}}},
    {"data": {"name": "pts"}, "transform": [{"filter": "datum.p == 'F'"}], "mark": {"type": "circle", "size": 55, "opacity": 1},
     "encoding": {"x": {"field": "g", "type": "nominal", "title": null}, "xOffset": {"field": "t", "type": "nominal"},
      "y": {"field": "v", "type": "quantitative", "scale": {"domain": [-0.2, 12.36], "nice": false, "zero": false}, "axis": {"values": [0, 3, 6, 9, 12]}, "title": "Relative expression of MHC-IIb"},
      "color": {"field": "t", "type": "nominal", "scale": {"domain": ["Before", "After"], "range": ["#5b5bff", "#00c000"]},
        "legend": {"title": null, "orient": "none", "legendX": 94, "legendY": 194, "strokeColor": "#333333", "fillColor": "#f4f4f4", "padding": 5, "labelOffset": 20, "labelFontSize": 13, "symbolSize": 55, "symbolType": "circle", "rowPadding": 2, "symbolStrokeWidth": 0, "labelColor": "#222222"}}}},
    {"data": {"name": "box"}, "transform": [{"filter": "datum.p == 'F'"}], "mark": {"type": "bar", "fill": "#9cf1f1", "fillOpacity": 0.6, "stroke": "#888888", "strokeWidth": 2.5},
     "encoding": {"x": {"field": "g", "type": "nominal", "title": null}, "xOffset": {"field": "t", "type": "nominal"},
      "y": {"field": "lo", "type": "quantitative", "scale": {"domain": [-0.2, 12.36], "nice": false, "zero": false}, "title": "Relative expression of MHC-IIb"}, "y2": {"field": "hi"}}},
    {"data": {"name": "box"}, "transform": [{"filter": "datum.p == 'F'"}], "mark": {"type": "tick", "orient": "horizontal", "color": "#888888", "size": 20, "thickness": 2.5, "opacity": 1},
     "encoding": {"x": {"field": "g", "type": "nominal", "title": null}, "xOffset": {"field": "t", "type": "nominal"},
      "y": {"field": "mid", "type": "quantitative", "scale": {"domain": [-0.2, 12.36], "nice": false, "zero": false}, "title": "Relative expression of MHC-IIb"}}},
    {"data": {"name": "pts"}, "transform": [{"filter": "datum.p == 'F'"}], "mark": {"type": "line", "color": "#111111", "strokeWidth": 1, "strokeDash": [4, 2]},
     "encoding": {"x": {"field": "g", "type": "nominal", "title": null}, "xOffset": {"field": "t", "type": "nominal"},
      "y": {"field": "v", "type": "quantitative", "scale": {"domain": [-0.2, 12.36], "nice": false, "zero": false}, "title": "Relative expression of MHC-IIb"}, "detail": {"field": "id", "type": "nominal"}}},
    {"data": {"name": "sig"}, "transform": [{"filter": "datum.p == 'F'"}], "mark": {"type": "tick", "orient": "horizontal", "color": "#000000", "size": 52, "thickness": 2.5, "opacity": 1},
     "encoding": {"x": {"field": "g", "type": "nominal", "title": null},
      "y": {"field": "bar", "type": "quantitative", "scale": {"domain": [-0.2, 12.36], "nice": false, "zero": false}, "title": "Relative expression of MHC-IIb"}}},
    {"data": {"name": "sig"}, "transform": [{"filter": "datum.p == 'F'"}], "mark": {"type": "text", "fontSize": 18, "baseline": "alphabetic", "color": "#111111"},
     "encoding": {"x": {"field": "g", "type": "nominal", "title": null},
      "y": {"field": "txt", "type": "quantitative", "scale": {"domain": [-0.2, 12.36], "nice": false, "zero": false}, "title": "Relative expression of MHC-IIb"}, "text": {"field": "lab", "type": "nominal"}}}
   ]
  }
 ]
}
]
}
